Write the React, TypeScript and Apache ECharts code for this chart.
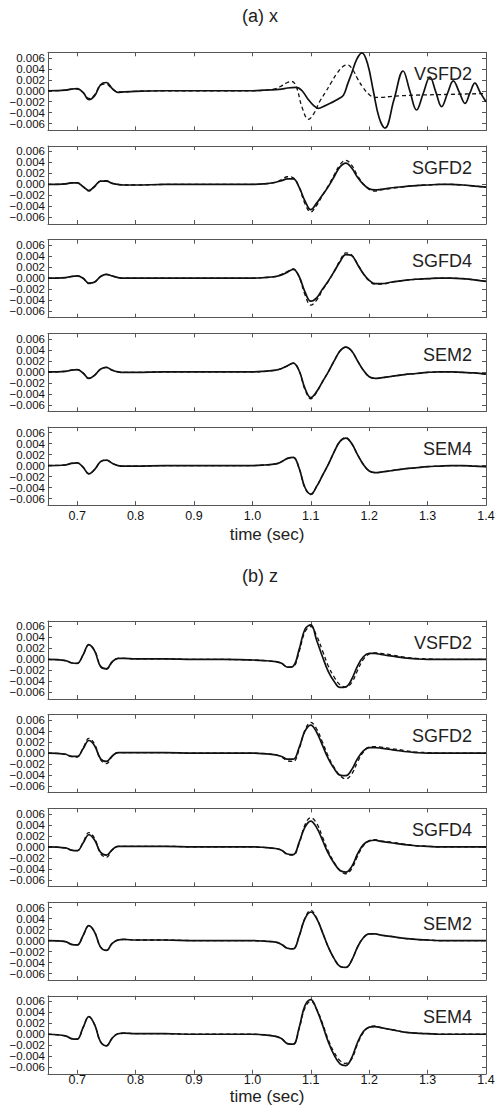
import React, { useEffect, useRef } from "react";
import * as echarts from "echarts";

// ---------- text / ticks ----------
const groupTitles = ["(a) x", "(b) z"];
const panelNames = ["VSFD2", "SGFD2", "SGFD4", "SEM2", "SEM4"];
const xAxisTitle = "time (sec)";
const xTicks = [0.7, 0.8, 0.9, 1.0, 1.1, 1.2, 1.3, 1.4];
const yTicks = [-0.006, -0.004, -0.002, 0, 0.002, 0.004, 0.006];
const yLabelsSetA = [-0.006, -0.002, 0.002, 0.006];
const yLabelsSetB = [-0.004, 0, 0.004];

// ---------- shared time grid (sec) ----------
const tGrid = [
  0.65, 0.68, 0.69, 0.70, 0.71, 0.72, 0.73, 0.74, 0.75, 0.76,
  0.77, 0.78, 0.80, 0.85, 0.90, 0.95, 1.00, 1.02, 1.04, 1.05,
  1.06, 1.07, 1.08, 1.09, 1.10, 1.11, 1.12, 1.13, 1.14, 1.15,
  1.16, 1.17, 1.18, 1.19, 1.20, 1.21, 1.22, 1.24, 1.26, 1.28,
  1.30, 1.32, 1.34, 1.36, 1.38, 1.40,
];

// ---------- (a) x : VSFD2 (own sampling) ----------
const aVSFD2Solid: [number, number][] = [
  [0.65, 0], [0.68, 0.0001], [0.69, 0.0003], [0.70, 0.0004], [0.71, -0.0003],
  [0.72, -0.0016], [0.73, -0.0009], [0.74, 0.0011], [0.75, 0.0015], [0.76, 0.0004],
  [0.77, -0.0003], [0.78, -0.0002], [0.80, -0.0001], [0.85, 0], [0.90, 0],
  [0.95, 0], [1.00, 0], [1.02, 0.0001], [1.04, 0.0002], [1.05, 0.0003],
  [1.06, 0.0005], [1.075, 0.0006], [1.085, 0.0000], [1.095, -0.0015], [1.105, -0.0027],
  [1.113, -0.0032], [1.123, -0.0028], [1.135, -0.0022], [1.147, -0.0015], [1.156, -0.0008],
  [1.163, 0.0012], [1.170, 0.0032], [1.179, 0.0058], [1.1875, 0.0069], [1.197, 0.0050],
  [1.207, 0.0000], [1.217, -0.0049], [1.227, -0.0068], [1.2425, -0.0016], [1.258, 0.0036],
  [1.2695, 0.0000], [1.281, -0.0035], [1.2925, -0.0005], [1.304, 0.0025], [1.314, -0.0002],
  [1.324, -0.0029], [1.334, -0.0005], [1.344, 0.0018], [1.354, -0.0002], [1.364, -0.0023],
  [1.3725, -0.0004], [1.381, 0.0014], [1.390, -0.0003], [1.40, -0.0020],
];
const aVSFD2Dashed: [number, number][] = [
  [0.65, 0], [0.68, 0.0001], [0.69, 0.0003], [0.70, 0.0003], [0.71, -0.0003],
  [0.72, -0.0014], [0.73, -0.0007], [0.74, 0.0010], [0.75, 0.0012], [0.76, 0.0003],
  [0.77, -0.0002], [0.78, -0.0002], [0.80, -0.0001], [0.85, 0], [0.90, 0],
  [0.95, 0], [1.00, 0], [1.02, 0.0001], [1.04, 0.0004], [1.05, 0.0009],
  [1.06, 0.0015], [1.067, 0.0017], [1.075, 0.0008], [1.085, -0.0030], [1.096, -0.0052],
  [1.105, -0.0042], [1.115, -0.0020], [1.125, -0.0003], [1.135, 0.0015], [1.145, 0.0032],
  [1.155, 0.0044], [1.163, 0.0047], [1.172, 0.0038], [1.18, 0.0022], [1.19, 0.0005],
  [1.20, -0.0007], [1.21, -0.0012], [1.22, -0.0012], [1.24, -0.0010], [1.28, -0.0008],
  [1.32, -0.0007], [1.36, -0.0006], [1.40, -0.0005],
];

// ---------- (a) x : other methods (values on tGrid) ----------
const aSGFD2Solid = [
  0, 0.0001, 0.0003, 0.0003, -0.0004, -0.0011, -0.0003, 0.0006, 0.0006, 0.0002,
  0, -0.0001, -0.0001, 0, 0, 0, 0, 0.0001, 0.0004, 0.0007,
  0.0010, 0.0010, -0.0005, -0.0030, -0.0046, -0.0034, -0.0019, -0.0004, 0.0014, 0.0032,
  0.0039, 0.0030, 0.0013, 0.0000, -0.0008, -0.0010, -0.0009, -0.0006, -0.0004, -0.0002,
  -0.0001, 0, 0, -0.0001, -0.0003, -0.0005,
];
const aSGFD2Dashed = [
  0, 0.0001, 0.0003, 0.0003, -0.0004, -0.0012, -0.0004, 0.0006, 0.0007, 0.0002,
  0, -0.0001, -0.0001, 0, 0, 0, 0, 0.0001, 0.0004, 0.0009,
  0.0014, 0.0012, -0.0005, -0.0035, -0.0050, -0.0038, -0.0020, -0.0002, 0.0017, 0.0036,
  0.0044, 0.0035, 0.0016, 0.0001, -0.0009, -0.0012, -0.0010, -0.0007, -0.0004, -0.0002,
  -0.0001, 0, 0, -0.0001, -0.0003, -0.0005,
];
const aSGFD4Solid = [
  0, 0.0001, 0.0003, 0.0004, 0.0000, -0.0009, -0.0007, 0.0003, 0.0007, 0.0004,
  0.0001, 0, 0, 0, 0, 0, 0, 0.0001, 0.0003, 0.0006,
  0.0011, 0.0016, 0.0003, -0.0025, -0.0042, -0.0036, -0.0020, -0.0005, 0.0012, 0.0030,
  0.0043, 0.0041, 0.0025, 0.0008, -0.0004, -0.0010, -0.0010, -0.0007, -0.0004, -0.0002,
  -0.0001, 0, 0, -0.0001, -0.0003, -0.0006,
];
const aSGFD4Dashed = [
  0, 0.0001, 0.0003, 0.0004, 0.0000, -0.0010, -0.0007, 0.0003, 0.0007, 0.0004,
  0.0001, 0, 0, 0, 0, 0, 0, 0.0001, 0.0003, 0.0007,
  0.0012, 0.0017, 0.0002, -0.0030, -0.0049, -0.0040, -0.0022, -0.0006, 0.0012, 0.0032,
  0.0046, 0.0042, 0.0026, 0.0008, -0.0005, -0.0011, -0.0011, -0.0007, -0.0004, -0.0002,
  -0.0001, 0, 0, -0.0001, -0.0003, -0.0006,
];
const aSEM2Solid = [
  0, 0.0001, 0.0003, 0.0004, -0.0002, -0.0012, -0.0006, 0.0005, 0.0008, 0.0003,
  0, -0.0001, -0.0001, 0, 0, 0, 0, 0.0001, 0.0003, 0.0006,
  0.0011, 0.0016, 0.0002, -0.0030, -0.0047, -0.0036, -0.0018, 0.0000, 0.0020, 0.0038,
  0.0045, 0.0038, 0.0020, 0.0003, -0.0009, -0.0012, -0.0011, -0.0008, -0.0005, -0.0003,
  -0.0001, 0, 0, -0.0001, -0.0002, -0.0004,
];
const aSEM2Dashed = [
  0, 0.0001, 0.0003, 0.0004, -0.0002, -0.0012, -0.0006, 0.0005, 0.0008, 0.0003,
  0, -0.0001, -0.0001, 0, 0, 0, 0, 0.0001, 0.0003, 0.0006,
  0.0011, 0.0016, 0.0002, -0.0032, -0.0049, -0.0037, -0.0018, 0.0000, 0.0020, 0.0038,
  0.0045, 0.0038, 0.0020, 0.0003, -0.0009, -0.0012, -0.0011, -0.0008, -0.0005, -0.0003,
  -0.0001, 0, 0, -0.0001, -0.0002, -0.0004,
];
const aSEM4Solid = [
  0, 0.0001, 0.0004, 0.0005, -0.0003, -0.0015, -0.0007, 0.0007, 0.0010, 0.0004,
  0, -0.0001, -0.0001, 0, 0, 0, 0, 0.0001, 0.0003, 0.0007,
  0.0013, 0.0015, -0.0005, -0.0040, -0.0052, -0.0038, -0.0018, 0.0002, 0.0025, 0.0044,
  0.0050, 0.0040, 0.0020, 0.0002, -0.0010, -0.0013, -0.0012, -0.0009, -0.0006, -0.0004,
  -0.0002, -0.0001, 0, 0, -0.0001, -0.0002,
];
const aSEM4Dashed = [
  0, 0.0001, 0.0004, 0.0005, -0.0003, -0.0015, -0.0007, 0.0007, 0.0010, 0.0004,
  0, -0.0001, -0.0001, 0, 0, 0, 0, 0.0001, 0.0003, 0.0007,
  0.0013, 0.0015, -0.0005, -0.0041, -0.0053, -0.0038, -0.0018, 0.0002, 0.0025, 0.0044,
  0.0051, 0.0040, 0.0020, 0.0002, -0.0010, -0.0013, -0.0012, -0.0009, -0.0006, -0.0004,
  -0.0002, -0.0001, 0, 0, -0.0001, -0.0002,
];

// ---------- (b) z ----------
const bVSFD2Solid = [
  0, -0.0002, -0.0006, -0.0007, 0.0008, 0.0027, 0.0015, -0.0013, -0.0017, -0.0004,
  0.0002, 0.0002, 0.0001, 0.0001, 0, 0, -0.0001, -0.0002, -0.0004, -0.0007,
  -0.0014, -0.0012, 0.0018, 0.0055, 0.0063, 0.0035, 0.0005, -0.0022, -0.0040, -0.0051,
  -0.0050, -0.0036, -0.0012, 0.0005, 0.0011, 0.0011, 0.0009, 0.0006, 0.0003, 0.0001,
  0, 0, 0, 0, 0, 0,
];
const bVSFD2Dashed = [
  0, -0.0002, -0.0006, -0.0007, 0.0008, 0.0027, 0.0016, -0.0012, -0.0018, -0.0005,
  0.0002, 0.0002, 0.0001, 0.0001, 0, 0, -0.0001, -0.0002, -0.0004, -0.0007,
  -0.0014, -0.0013, 0.0014, 0.0050, 0.0060, 0.0043, 0.0016, -0.0012, -0.0032, -0.0046,
  -0.0050, -0.0042, -0.0020, 0.0000, 0.0010, 0.0012, 0.0011, 0.0008, 0.0004, 0.0002,
  0.0001, 0, 0, 0, 0, 0,
];
const bSGFD2Solid = [
  0, -0.0002, -0.0006, -0.0006, 0.0008, 0.0023, 0.0013, -0.0010, -0.0015, -0.0005,
  0.0001, 0.0001, 0.0001, 0.0001, 0, 0, 0, -0.0001, -0.0003, -0.0006,
  -0.0011, -0.0011, 0.0010, 0.0040, 0.0051, 0.0038, 0.0014, -0.0010, -0.0028, -0.0040,
  -0.0041, -0.0030, -0.0010, 0.0004, 0.0010, 0.0010, 0.0009, 0.0006, 0.0003, 0.0001,
  0, 0, 0, 0, 0, 0,
];
const bSGFD2Dashed = [
  0, -0.0002, -0.0006, -0.0007, 0.0009, 0.0027, 0.0016, -0.0012, -0.0019, -0.0006,
  0.0001, 0.0001, 0.0001, 0.0001, 0, 0, 0, -0.0001, -0.0003, -0.0007,
  -0.0014, -0.0015, 0.0007, 0.0042, 0.0056, 0.0044, 0.0020, -0.0006, -0.0026, -0.0041,
  -0.0047, -0.0038, -0.0016, 0.0002, 0.0011, 0.0012, 0.0011, 0.0008, 0.0005, 0.0002,
  0.0001, 0, 0, 0, 0, 0,
];
const bSGFD4Solid = [
  0, -0.0002, -0.0006, -0.0007, 0.0007, 0.0022, 0.0012, -0.0010, -0.0015, -0.0005,
  0.0001, 0.0001, 0.0001, 0.0001, 0, 0, 0, -0.0001, -0.0003, -0.0006,
  -0.0013, -0.0014, 0.0008, 0.0036, 0.0047, 0.0035, 0.0012, -0.0012, -0.0030, -0.0043,
  -0.0046, -0.0036, -0.0013, 0.0004, 0.0011, 0.0012, 0.0010, 0.0007, 0.0004, 0.0002,
  0.0001, 0, 0, 0, 0, 0,
];
const bSGFD4Dashed = [
  0, -0.0002, -0.0006, -0.0007, 0.0008, 0.0026, 0.0015, -0.0012, -0.0019, -0.0006,
  0.0001, 0.0001, 0.0001, 0.0001, 0, 0, 0, -0.0001, -0.0003, -0.0006,
  -0.0014, -0.0015, 0.0006, 0.0040, 0.0053, 0.0043, 0.0018, -0.0008, -0.0028, -0.0043,
  -0.0049, -0.0040, -0.0017, 0.0002, 0.0011, 0.0013, 0.0011, 0.0008, 0.0005, 0.0002,
  0.0001, 0, 0, 0, 0, 0,
];
const bSEM2Solid = [
  0, -0.0002, -0.0007, -0.0008, 0.0009, 0.0027, 0.0015, -0.0012, -0.0018, -0.0005,
  0.0001, 0.0002, 0.0001, 0.0001, 0, 0, 0, -0.0001, -0.0003, -0.0007,
  -0.0014, -0.0015, 0.0008, 0.0040, 0.0052, 0.0040, 0.0015, -0.0012, -0.0033, -0.0047,
  -0.0049, -0.0036, -0.0012, 0.0005, 0.0012, 0.0012, 0.0010, 0.0007, 0.0004, 0.0002,
  0.0001, 0, 0, 0, 0, 0,
];
const bSEM2Dashed = [
  0, -0.0002, -0.0007, -0.0008, 0.0009, 0.0027, 0.0015, -0.0012, -0.0018, -0.0005,
  0.0001, 0.0002, 0.0001, 0.0001, 0, 0, 0, -0.0001, -0.0003, -0.0007,
  -0.0014, -0.0015, 0.0008, 0.0041, 0.0055, 0.0041, 0.0015, -0.0012, -0.0033, -0.0047,
  -0.0049, -0.0036, -0.0012, 0.0005, 0.0012, 0.0012, 0.0010, 0.0007, 0.0004, 0.0002,
  0.0001, 0, 0, 0, 0, 0,
];
const bSEM4Solid = [
  0, -0.0003, -0.0008, -0.0009, 0.0012, 0.0032, 0.0017, -0.0014, -0.0021, -0.0007,
  0.0001, 0.0002, 0.0001, 0.0001, 0, 0, 0, -0.0001, -0.0004, -0.0008,
  -0.0017, -0.0018, 0.0012, 0.0052, 0.0063, 0.0045, 0.0017, -0.0014, -0.0038, -0.0054,
  -0.0057, -0.0043, -0.0015, 0.0005, 0.0013, 0.0014, 0.0012, 0.0008, 0.0004, 0.0002,
  0.0001, 0, 0, 0, 0, 0,
];
const bSEM4Dashed = [
  0, -0.0003, -0.0008, -0.0009, 0.0012, 0.0032, 0.0017, -0.0014, -0.0021, -0.0007,
  0.0001, 0.0002, 0.0001, 0.0001, 0, 0, 0, -0.0001, -0.0004, -0.0008,
  -0.0017, -0.0018, 0.0010, 0.0048, 0.0060, 0.0046, 0.0020, -0.0010, -0.0033, -0.0048,
  -0.0053, -0.0045, -0.0018, 0.0003, 0.0013, 0.0015, 0.0012, 0.0008, 0.0004, 0.0002,
  0.0001, 0, 0, 0, 0, 0,
];

const FONT = "'Liberation Sans', Arial, Helvetica, sans-serif";
const AXIS_COLOR = "#555";

function onGrid(vals: number[]): [number, number][] {
  const n = Math.min(vals.length, tGrid.length);
  const out: [number, number][] = [];
  for (let i = 0; i < n; i++) out.push([tGrid[i], vals[i]]);
  return out;
}

const panels = [
  { g: 0, s: aVSFD2Solid, d: aVSFD2Dashed },
  { g: 0, s: onGrid(aSGFD2Solid), d: onGrid(aSGFD2Dashed) },
  { g: 0, s: onGrid(aSGFD4Solid), d: onGrid(aSGFD4Dashed) },
  { g: 0, s: onGrid(aSEM2Solid), d: onGrid(aSEM2Dashed) },
  { g: 0, s: onGrid(aSEM4Solid), d: onGrid(aSEM4Dashed) },
  { g: 1, s: onGrid(bVSFD2Solid), d: onGrid(bVSFD2Dashed) },
  { g: 1, s: onGrid(bSGFD2Solid), d: onGrid(bSGFD2Dashed) },
  { g: 1, s: onGrid(bSGFD4Solid), d: onGrid(bSGFD4Dashed) },
  { g: 1, s: onGrid(bSEM2Solid), d: onGrid(bSEM2Dashed) },
  { g: 1, s: onGrid(bSEM4Solid), d: onGrid(bSEM4Dashed) },
];

const GROUP_TOP = [52.3, 621];
const STEP = 93.7;
const PANEL_H = 78;
const LEFT = 48;
const WIDTH = 438;

function fmtY(v: number) {
  const a = Math.abs(v).toFixed(3);
  return v < -1e-12 ? "\u2212" + a : a;
}

export default function App() {
  const ref = useRef<HTMLDivElement>(null);
  useEffect(() => {
    if (!ref.current) return;
    const chart = echarts.init(ref.current, undefined, { renderer: "svg" });
    const grid: any[] = [];
    const xAxis: any[] = [];
    const yAxis: any[] = [];
    const series: any[] = [];
    const graphic: any[] = [];

    panels.forEach((p, i) => {
      const k = i % 5;
      const top = GROUP_TOP[p.g] + k * STEP;
      const isLast = k === 4;
      grid.push({ left: LEFT, top, width: WIDTH, height: PANEL_H, containLabel: false, outerBoundsMode: "none" });
      const axLine = { show: true, onZero: false, lineStyle: { color: AXIS_COLOR, width: 1 } };
      const xBase = {
        gridIndex: i, type: "value", min: 0.65, max: 1.4,
        axisLine: axLine,
        axisTick: { show: true, inside: true, length: 4, customValues: xTicks, lineStyle: { color: AXIS_COLOR } },
        splitLine: { show: false },
      };
      xAxis.push({
        ...xBase, position: "bottom",
        axisLabel: {
          show: isLast, customValues: xTicks, formatter: (v: number) => v.toFixed(1),
          interval: 0, showMinLabel: true, showMaxLabel: true, hideOverlap: false,
          fontSize: 12.5, color: "#111", fontFamily: FONT, margin: p.g === 0 ? 4 : 0,
        },
      });
      xAxis.push({ ...xBase, position: "top", axisLabel: { show: false } });

      const yRange = { gridIndex: i, type: "value", min: -0.0072, max: 0.007, splitLine: { show: false } };
      const yLabelStyle = {
        show: true, formatter: fmtY, interval: 0, showMinLabel: true, showMaxLabel: true, hideOverlap: false,
        fontSize: 11.5, color: "#111", fontFamily: FONT, margin: 3,
      };
      // left axis: line, all ticks, half of the labels
      yAxis.push({
        ...yRange, position: "left", offset: 0,
        axisLine: axLine,
        axisTick: { show: true, inside: true, length: 4, customValues: yTicks, lineStyle: { color: AXIS_COLOR } },
        axisLabel: { ...yLabelStyle, customValues: yLabelsSetA },
      });
      // left axis (labels only): the other half of the labels
      yAxis.push({
        ...yRange, position: "left", offset: 0,
        axisLine: { show: false, onZero: false },
        axisTick: { show: false, customValues: yLabelsSetB },
        axisLabel: { ...yLabelStyle, customValues: yLabelsSetB },
      });
      // right axis: mirrored ticks
      yAxis.push({
        ...yRange, position: "right",
        axisLine: axLine,
        axisTick: { show: true, inside: true, length: 4, customValues: yTicks, lineStyle: { color: AXIS_COLOR } },
        axisLabel: { show: false },
      });

      series.push({
        type: "line", xAxisIndex: 2 * i, yAxisIndex: 3 * i, data: p.s,
        showSymbol: false, smooth: 0.4, lineStyle: { color: "#111", width: 1.7 }, z: 2,
      });
      series.push({
        type: "line", xAxisIndex: 2 * i, yAxisIndex: 3 * i, data: p.d,
        showSymbol: false, smooth: 0.4, lineStyle: { color: "#111", width: 1.3, type: [4, 3] }, z: 3,
      });

      graphic.push({
        type: "text", right: 496 - 472, top: top + 21.5 - 9,
        style: { text: panelNames[k], fontSize: 18, fontFamily: FONT, fill: "#222" },
        z: 10,
      });
    });

    groupTitles.forEach((t, g) => {
      graphic.push({
        type: "text", x: 260, y: g === 0 ? 16 : 576,
        style: { text: t, fontSize: 18, fontFamily: FONT, fill: "#222", align: "center", verticalAlign: "middle" },
      });
      graphic.push({
        type: "text", x: 267, y: g === 0 ? 534 : 1096,
        style: { text: xAxisTitle, fontSize: 17, fontFamily: FONT, fill: "#222", align: "center", verticalAlign: "middle" },
      });
    });

    chart.setOption({
      animation: false,
      backgroundColor: "#fff",
      grid, xAxis, yAxis, series, graphic,
    });
    return () => chart.dispose();
  }, []);
  return <div ref={ref} style={{ position: "absolute", left: 0, top: 0, width: 496, height: 1111 }} />;
}
